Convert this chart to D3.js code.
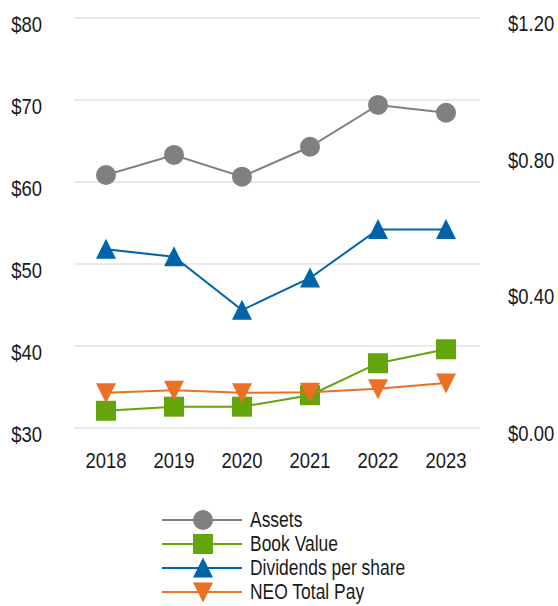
<!DOCTYPE html>
<html>
<head>
<meta charset="utf-8">
<script src="https://cdn.jsdelivr.net/npm/d3@7"></script>
<style>
  html, body { margin: 0; padding: 0; background: #fff; }
  svg { display: block; font-family: "Liberation Sans", Arial, sans-serif; }
</style>
</head>
<body>
<svg id="chart" width="558" height="606"></svg>
<script>
const years = ["2018", "2019", "2020", "2021", "2022", "2023"];
const assets = [60.85, 63.3, 60.65, 64.3, 69.4, 68.45];
const bookValue = [32.1, 32.6, 32.6, 34.0, 37.9, 39.6];
const dividends = [0.523, 0.501, 0.345, 0.439, 0.581, 0.581];
const neoPay = [34.3, 34.6, 34.3, 34.35, 34.8, 35.5];
const leftTicks = [30, 40, 50, 60, 70, 80];
const rightTicks = [0, 0.4, 0.8, 1.2];
const seriesNames = ["Assets", "Book Value", "Dividends per share", "NEO Total Pay"];

const FONT = "'Liberation Sans', Arial, sans-serif";
const NARROW = 0.82;
const svg = d3.select("#chart");
const x = d3.scaleBand().domain(years).range([72, 480]);
const yL = d3.scaleLinear().domain([30, 80]).range([428, 18]);
const yR = d3.scaleLinear().domain([0, 1.2]).range([428, 18]);

// gridlines
svg.append("g").selectAll("line").data(leftTicks).join("line")
  .attr("x1", 74).attr("x2", 480)
  .attr("y1", d => yL(d)).attr("y2", d => yL(d))
  .attr("stroke", "#e3e3e3").attr("stroke-width", 1.5);

function styleTicks(g, dyPx, anchor) {
  g.attr("font-family", FONT);
  g.select(".domain").remove();
  g.selectAll("text").attr("font-size", 22.5).attr("fill", "#1a1a1a")
    .attr("dy", null).attr("x", 0).attr("y", 0)
    .attr("text-anchor", anchor)
    .attr("transform", `translate(0,${dyPx}) scale(${NARROW},1)`);
}

// left axis
const leftAxis = d3.axisLeft(yL).tickValues(leftTicks).tickFormat(d => "$" + d).tickSize(0).tickPadding(0);
const gl = svg.append("g").attr("transform", "translate(42,0)").call(leftAxis);
styleTicks(gl, 13, "end");

// right axis
const rightAxis = d3.axisRight(yR).tickValues(rightTicks).tickFormat(d3.format("$.2f")).tickSize(0).tickPadding(0);
const gr = svg.append("g").attr("transform", "translate(508,0)").call(rightAxis);
styleTicks(gr, 12.5, "start");

// x axis
const bottomAxis = d3.axisBottom(x).tickSize(0).tickPadding(0);
const gx = svg.append("g").attr("transform", "translate(0,467.5)").call(bottomAxis);
styleTicks(gx, 0, "middle");

const cx = d => x(d) + x.bandwidth() / 2;
const symCircle = d3.symbol().type(d3.symbolCircle).size(Math.PI * 10 * 10);
const symSquare = d3.symbol().type(d3.symbolSquare).size(400);
const triUp = "M0,-10.5L10,9.5L-10,9.5Z";
const triDown = "M0,10.5L10,-9.5L-10,-9.5Z";

const series = [
  { name: seriesNames[0], values: assets, y: yL, color: "#808080", marker: symCircle() },
  { name: seriesNames[1], values: bookValue, y: yL, color: "#63a50a", marker: symSquare() },
  { name: seriesNames[2], values: dividends, y: yR, color: "#0064a8", marker: triUp },
  { name: seriesNames[3], values: neoPay, y: yL, color: "#e97024", marker: triDown }
];

series.forEach(s => {
  const pts = years.map((yr, i) => [cx(yr), s.y(s.values[i])]);
  const g = svg.append("g");
  g.append("path").attr("d", d3.line()(pts))
    .attr("fill", "none").attr("stroke", s.color).attr("stroke-width", 2);
  g.selectAll("path.m").data(pts).join("path").attr("class", "m")
    .attr("d", s.marker)
    .attr("transform", d => `translate(${d[0]},${d[1]})`)
    .attr("fill", s.color);
});

// legend
const legend = svg.append("g").attr("font-family", FONT);
const legendY = [520, 544, 568, 592];
series.forEach((s, i) => {
  const gy = legendY[i];
  legend.append("line").attr("x1", 162).attr("x2", 242).attr("y1", gy).attr("y2", gy)
    .attr("stroke", s.color).attr("stroke-width", 2);
  legend.append("path").attr("d", s.marker)
    .attr("transform", `translate(203,${gy})`).attr("fill", s.color);
  legend.append("text").attr("x", 0).attr("y", 0)
    .attr("transform", `translate(250,${gy + 6.5}) scale(${NARROW},1)`)
    .attr("font-size", 21.3).attr("fill", "#1a1a1a").text(s.name);
});
</script>
</body>
</html>
